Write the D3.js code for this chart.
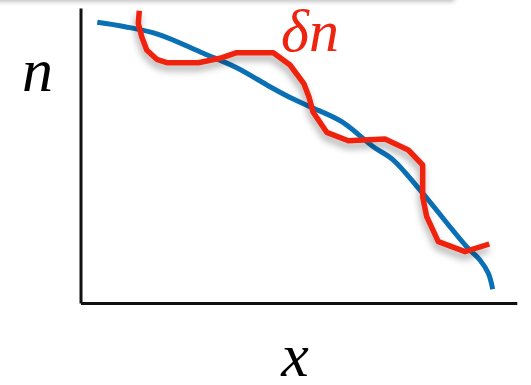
<!DOCTYPE html>
<html>
<head>
<meta charset="utf-8">
<script src="https://cdn.jsdelivr.net/npm/d3@7"></script>
<style>
  html, body { margin: 0; padding: 0; background: #fff; }
  svg { display: block; }
  .lbl {
    font-family: "Liberation Serif", "Tinos", "Nimbus Roman", "Nimbus Roman No9 L", "FreeSerif",
                 "Times New Roman", "Times", "Noto Serif", "DejaVu Serif", serif;
    font-style: italic;
  }
</style>
</head>
<body>
<svg id="chart" width="531" height="385"></svg>
<script>
// Smooth profile n(x)
const baseX = [3.85, 10.2, 17.83, 28.15, 35.8, 43.43, 48.41, 52.6, 59.87, 67.1, 71.7, 77.8, 88.5, 91.55, 93.47, 94.48];
const baseY = [95.15, 93.66, 91.08, 84.64, 79.76, 73.32, 69.39, 66.54, 61.46, 52.98, 48.47, 38.31, 19.08, 14.58, 10.07, 4.64];

// Perturbed profile n + δn
const pertX = [13.48, 13.25, 14.03, 15.17, 17.47, 19.76, 27.0, 31.97, 35.8, 44.19, 48.02, 51.23, 52.37, 53.29, 56.43, 61.38, 69.79, 75.13, 78.43, 78.43, 79.35, 82.0, 88.13, 93.7];
const pertY = [99.08, 94.81, 90.27, 85.76, 82.61, 81.46, 81.46, 82.95, 84.85, 84.85, 80.68, 74.24, 69.83, 64.75, 57.86, 55.02, 55.59, 51.86, 46.78, 36.03, 29.25, 20.78, 17.39, 20.0];

const yLabel = "n";
const xLabel = "x";
const pertLabel = "δn";

const svg = d3.select("#chart");
const plotLeft = 80.5, plotRight = 516.8, plotTop = 8, plotBottom = 303;

const x = d3.scaleLinear().domain([0, 100]).range([plotLeft, plotRight]);
const y = d3.scaleLinear().domain([0, 100]).range([plotBottom, plotTop]);

const defs = svg.append("defs");
const sh = defs.append("filter").attr("id", "redShadow")
  .attr("x", "-20%").attr("y", "-20%").attr("width", "140%").attr("height", "140%");
sh.append("feDropShadow").attr("dx", -1).attr("dy", 5).attr("stdDeviation", 3.5)
  .attr("flood-color", "#000").attr("flood-opacity", 0.35);
const soft = defs.append("filter").attr("id", "soft")
  .attr("x", "-10%").attr("y", "-100%").attr("width", "120%").attr("height", "300%");
soft.append("feGaussianBlur").attr("stdDeviation", 2);

// faint strip along the top edge
svg.append("rect").attr("x", -20).attr("y", -12).attr("width", 475).attr("height", 14)
  .attr("rx", 4).attr("fill", "#c4c4c4").attr("filter", "url(#soft)");

// axes: bare lines without ticks
const axisStyle = g => {
  g.selectAll(".tick").remove();
  g.select(".domain").attr("stroke", "#111").attr("stroke-width", 3);
};
svg.append("g").attr("transform", `translate(${plotLeft},0)`)
  .call(d3.axisLeft(y).ticks(0).tickSizeOuter(0)).call(axisStyle);
svg.append("g").attr("transform", `translate(0,${plotBottom})`)
  .call(d3.axisBottom(x).ticks(0).tickSizeOuter(0)).call(axisStyle);

const basePts = baseX.map((v, i) => [v, baseY[i]]);
const pertPts = pertX.map((v, i) => [v, pertY[i]]);

svg.append("path").datum(basePts)
  .attr("d", d3.line().x(d => x(d[0])).y(d => y(d[1])).curve(d3.curveCatmullRom.alpha(0.5)))
  .attr("fill", "none").attr("stroke", "#0a70b5").attr("stroke-width", 5)
  .attr("stroke-linejoin", "round");

svg.append("path").datum(pertPts)
  .attr("d", d3.line().x(d => x(d[0])).y(d => y(d[1])).curve(d3.curveLinear))
  .attr("fill", "none").attr("stroke", "#ef2410").attr("stroke-width", 5.5)
  .attr("stroke-linejoin", "round").attr("filter", "url(#redShadow)");

svg.append("text").attr("class", "lbl").attr("x", 22).attr("y", 91).text(yLabel)
  .attr("font-size", 62).attr("fill", "#000");
svg.append("text").attr("class", "lbl").attr("x", 295).attr("y", 376).attr("text-anchor", "middle").text(xLabel)
  .attr("font-size", 62).attr("fill", "#000");
svg.append("text").attr("class", "lbl").attr("x", 281).attr("y", 51).text(pertLabel)
  .attr("font-size", 60).attr("fill", "#ef2410");
</script>
</body>
</html>
